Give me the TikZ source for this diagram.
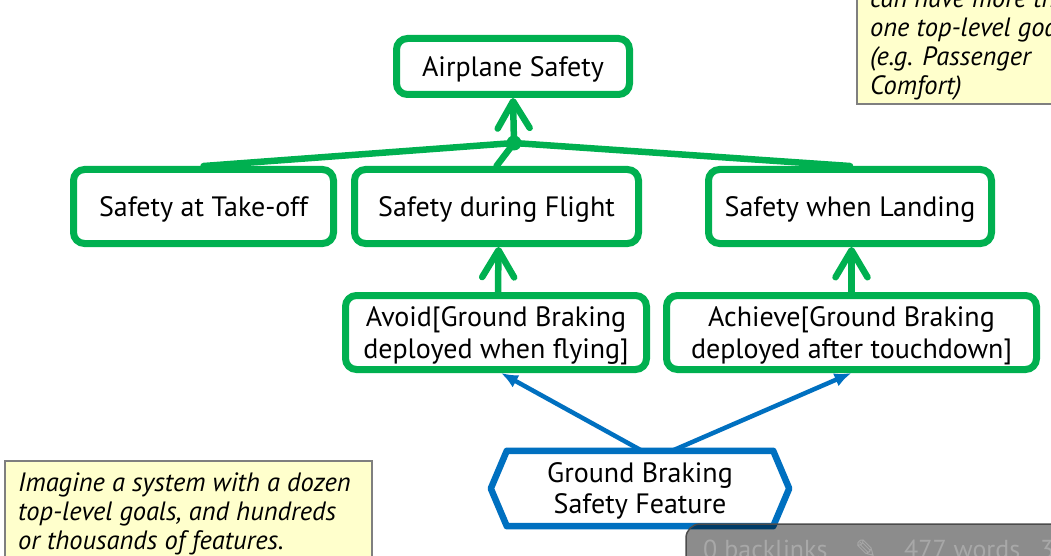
\documentclass[tikz,border=0pt]{standalone}
\usepackage{fontspec}
\setmainfont{PT Sans}
\newfontfamily\symfont{DejaVu Sans}
\usetikzlibrary{arrows.meta,calc}
\definecolor{goalgreen}{HTML}{00B050}
\definecolor{featblue}{HTML}{0070C0}
\definecolor{noteyellow}{HTML}{FFFFCC}
\definecolor{notegrey}{HTML}{7F7F7F}
\definecolor{bartext}{HTML}{A8A8A8}
\tikzset{
  goal/.style={draw=goalgreen, line width=7pt, rounded corners=11pt, fill=white,
    inner sep=0pt, text depth=0pt, align=center, font=\fontsize{28}{32}\selectfont},
  refine/.style={draw=goalgreen, line width=6.5pt, line cap=round},
  goalarrow/.style={refine, -{Straight Barb[length=27pt,width=32pt,line cap=round,line join=round]}},
  featarrow/.style={draw=featblue, line width=4.5pt, -{Latex[length=17pt,width=14pt]}},
  notebox/.style={draw=notegrey, line width=1.5pt, fill=noteyellow},
  notetext/.style={align=left, inner sep=0pt, font=\itshape\fontsize{26.5}{29}\selectfont},
  bartxt/.style={text=bartext, inner sep=0pt, font=\fontsize{26}{29}\selectfont}
}
\begin{document}
\begin{tikzpicture}[x=1pt,y=-1pt]
\useasboundingbox (0,0) rectangle (1051,556);
\clip (0,0) rectangle (1051,556);
\fill[white] (0,0) rectangle (1051,556);

% goals
\node[goal, minimum width=233pt, minimum height=56pt] (top) at (513,66.5) {Airplane Safety};
\node[goal, minimum width=260pt, minimum height=74pt] (takeoff) at (203.5,206.5) {Safety at Take-off};
\node[goal, minimum width=284pt, minimum height=74pt] (flight) at (496.5,206.5) {Safety during Flight};
\node[goal, minimum width=283pt, minimum height=74pt] (landing) at (850,206.5) {Safety when Landing};
\node[goal, minimum width=301pt, minimum height=74pt] (avoid) at (496,332.5) {Avoid[Ground Braking\\deployed when flying]};
\node[goal, minimum width=370pt, minimum height=74pt] (achieve) at (851.5,332.5) {Achieve[Ground Braking\\deployed after touchdown]};

% refinement junction
\coordinate (jn) at (514,143);
\draw[refine] (jn) -- (takeoff.north);
\draw[refine] (jn) -- (flight.north);
\draw[refine] (jn) -- (landing.north);
\fill[goalgreen] (jn) circle (7.5pt);
\draw[goalarrow] (jn) -- (top.south);

% goal contributions
\draw[goalarrow] ($(avoid.north)+(2,0)$) -- ($(flight.south)+(2,0)$);
\draw[goalarrow] (achieve.north) -- (achieve.north |- landing.south);

% feature
\node[inner sep=0pt, text depth=0pt, minimum width=266pt, minimum height=75pt, align=center,
      font=\fontsize{28}{31}\selectfont] (hex) at (640,488.5) {Ground Braking\\Safety Feature};
\draw[featblue, line width=6.5pt, line join=round]
  (hex.north west) -- (hex.north east) -- ($(hex.east)+(16,0)$) -- (hex.south east)
  -- (hex.south west) -- ($(hex.west)+(-16,0)$) -- cycle;
\draw[featarrow] ($(hex.north)+(2,0)$) -- ($(avoid.south)+(5,0)$);
\draw[featarrow] ($(hex.north)+(32,0)$) -- ($(achieve.south)+(0,0)$);

% notes
\draw[notebox] (5,461) rectangle (372,600);
\node[notetext, anchor=base west] (note1) at (18,549) {Imagine a system with a dozen\\top-level goals, and hundreds\\or thousands of features.};
\draw[notebox] (857,-40) rectangle (1090,104);
\node[notetext, anchor=base west] (note2) at (870,95) {can have more than\\one top-level goal\\(e.g. Passenger\\Comfort)};

% overlay bar
\draw[draw=black!70, line width=1.5pt, fill=black, fill opacity=0.45, rounded corners=14pt]
  (686,524) rectangle (1100,620);
\node[bartxt, anchor=base west] (bl) at (703,558) {0 backlinks};
\node[bartxt, anchor=base west] (pen) at (855,558) {\symfont ✎};
\node[bartxt, anchor=base west] (wd) at (904,558) {477 words};
\node[bartxt, anchor=base west] (rest) at (1040,558) {3};
\end{tikzpicture}
\end{document}
